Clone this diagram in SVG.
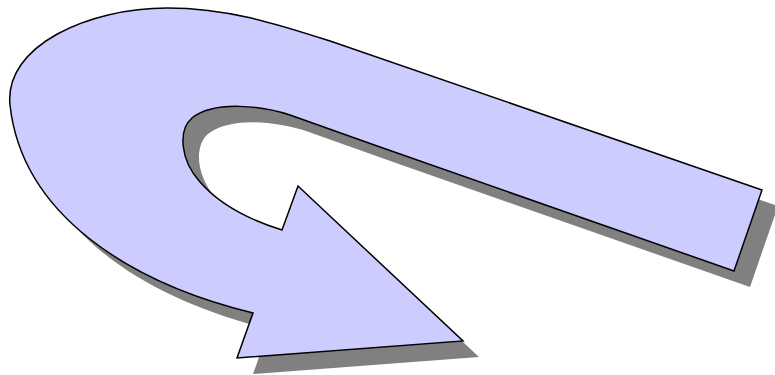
<svg xmlns="http://www.w3.org/2000/svg" width="775" height="375" viewBox="0 0 775 375">
<defs>
<path id="arrowShape" d="M 333,42 L 762,190 L 734,271 L 380,147 L 290,115 C 262,106 215,100 192,118 C 178,130 180,160 200,182 C 220,205 250,220 282,230 L 298,186 L 463,341 L 237,358 L 253,313 C 130,283 22,215 10,105 C 4,45 90,8 167,8 C 230,8 280,25 333,42 Z"/>
</defs>
<rect width="775" height="375" fill="#ffffff"/>
<g id="uturn-arrow">
<use href="#arrowShape" transform="translate(16,16)" fill="#808080"/>
<use href="#arrowShape" fill="#ccccff" stroke="#000000" stroke-width="1.5" stroke-linejoin="miter"/>
</g>
</svg>
